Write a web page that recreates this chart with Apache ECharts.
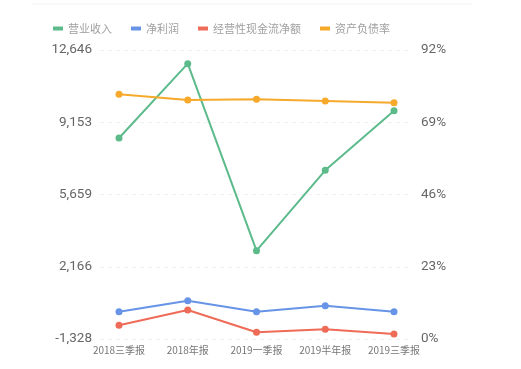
<!DOCTYPE html>
<html>
<head>
<meta charset="utf-8">
<script src="https://cdn.jsdelivr.net/npm/echarts@6/dist/echarts.min.js"></script>
<style>html,body{margin:0;padding:0;background:#fff;}#c{width:521px;height:369px;}</style>
</head>
<body>
<div id="c"></div>
<script>
var categories = ['2018三季报', '2018年报', '2019一季报', '2019半年报', '2019三季报'];
var revenue = [8391, 11984, 2943, 6828, 9713];
var netProfit = [-8, 524, -8, 282, -8];
var opCashFlow = [-666, 74, -1004, -859, -1086];
var debtRatio = [77.9, 76.1, 76.3, 75.8, 75.2];
var seriesNames = ['营业收入', '净利润', '经营性现金流净额', '资产负债率'];
var colors = ['#5cba8b', '#6794e6', '#ee6b57', '#f6a92b'];
var leftMin = -1328, leftMax = 12646, leftInterval = 3493.5;
var rightMin = 0, rightMax = 92, rightInterval = 23;

var chart = echarts.init(document.getElementById('c'), null, {renderer: 'canvas'});
function mk(name, data, yIdx, color) {
  return {
    name: name, type: 'line', data: data, xAxisIndex: 1, yAxisIndex: yIdx,
    symbol: 'circle', symbolSize: 7, showSymbol: true, legendIcon: 'rect',
    lineStyle: {width: 2, color: color}, itemStyle: {color: color},
    emphasis: {disabled: true}, animation: false
  };
}
chart.setOption({
  animation: false,
  color: colors,
  graphic: [{type: 'line', shape: {x1: 32, y1: 4, x2: 472, y2: 4}, style: {stroke: '#f3f3f3', lineWidth: 1}}],
  legend: {
    data: seriesNames.map(function (n) { return {name: n, icon: 'rect'}; }),
    left: 48, top: 18, itemWidth: 10, itemHeight: 4, itemGap: 19,
    itemStyle: {borderWidth: 0},
    lineStyle: {width: 0},
    textStyle: {color: '#a0a0a0', fontSize: 11, fontFamily: 'Noto Sans CJK SC'}
  },
  grid: [
    {left: 100, right: 109, top: 50, bottom: 30},
    {left: 119, right: 127, top: 50, bottom: 30}
  ],
  xAxis: [
    {type: 'category', gridIndex: 0, data: categories, show: false},
    {type: 'category', gridIndex: 1, data: categories, boundaryGap: false,
     axisLine: {show: false}, axisTick: {show: false}, splitLine: {show: false},
     axisLabel: {color: '#777', fontSize: 10, margin: 6, interval: 0, fontFamily: 'Noto Sans CJK SC'}}
  ],
  yAxis: [
    {type: 'value', gridIndex: 0, position: 'left', min: leftMin, max: leftMax, interval: leftInterval,
     axisLine: {show: false}, axisTick: {show: false},
     splitLine: {show: true, lineStyle: {type: [4, 4], color: '#f0f0f0', width: 1}},
     axisLabel: {color: '#666', fontSize: 13.5, margin: 8, fontFamily: 'Roboto',
       formatter: function (v) { return Math.round(v).toLocaleString('en-US'); }}},
    {type: 'value', gridIndex: 0, position: 'right', min: rightMin, max: rightMax, interval: rightInterval,
     axisLine: {show: false}, axisTick: {show: false}, splitLine: {show: false},
     axisLabel: {color: '#666', fontSize: 13.5, margin: 9, fontFamily: 'Roboto',
       formatter: function (v) { return Math.round(v) + '%'; }}},
    {type: 'value', gridIndex: 1, min: leftMin, max: leftMax, show: false, splitLine: {show: false}},
    {type: 'value', gridIndex: 1, min: rightMin, max: rightMax, show: false, splitLine: {show: false}}
  ],
  series: [
    mk(seriesNames[0], revenue, 2, colors[0]),
    mk(seriesNames[1], netProfit, 2, colors[1]),
    mk(seriesNames[2], opCashFlow, 2, colors[2]),
    mk(seriesNames[3], debtRatio, 3, colors[3])
  ]
});
</script>
</body>
</html>
